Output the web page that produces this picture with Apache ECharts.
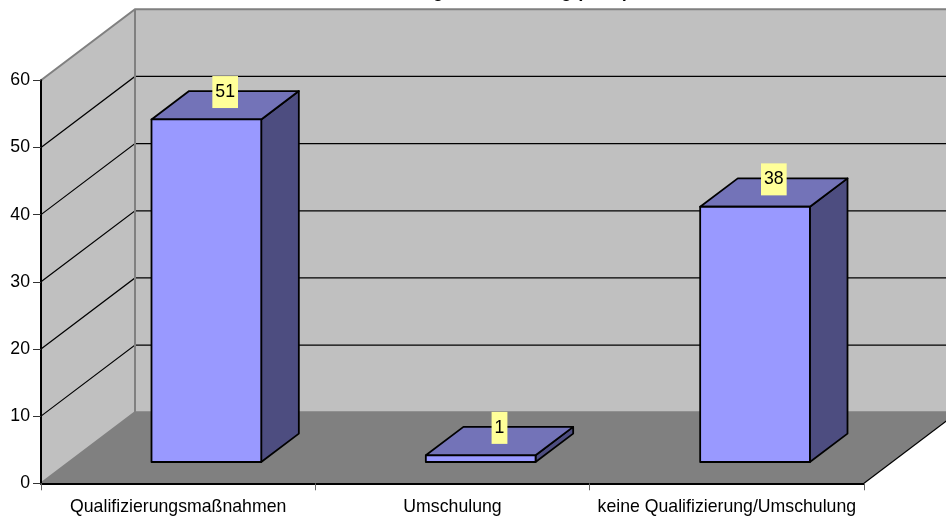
<!DOCTYPE html>
<html>
<head>
<meta charset="utf-8">
<style>html,body{margin:0;padding:0;background:#fff;overflow:hidden}#c{width:946px;height:518px}</style>
<script src="https://cdn.jsdelivr.net/npm/echarts@6/dist/echarts.min.js"></script>
</head>
<body>
<div id="c"></div>
<script>
const categories = ['Qualifizierungsmaßnahmen', 'Umschulung', 'keine Qualifizierung/Umschulung'];
const values = [51, 1, 38];
const yTicks = [0, 10, 20, 30, 40, 50, 60];
const titleText = 'Weiterbildung & Umschulung (n=90)';

const FONT = '"Liberation Sans", Arial, sans-serif';
const DX = 94, DY = 71;            // depth of the 3D box
const FRONT_GAP = 0.3, BAR_DEPTH = 0.4; // share of the depth
const BAR_W = 0.4;                 // share of a category

const chart = echarts.init(document.getElementById('c'), null, {renderer: 'canvas'});

function poly(points, fill, stroke, lineWidth) {
  return {type: 'polygon', shape: {points}, style: {fill, stroke: stroke || null, lineWidth: lineWidth || 0, lineJoin: 'round'}};
}
function line(points, stroke, lineWidth) {
  return {type: 'polyline', shape: {points}, style: {fill: null, stroke, lineWidth}};
}

function renderWalls(params, api) {
  const cs = params.coordSys;
  const xL = cs.x, xR = cs.x + cs.width;
  const y0 = api.coord([0, yTicks[0]])[1];
  const yT = api.coord([0, yTicks[yTicks.length - 1]])[1];
  const els = [];
  // back wall, side wall, floor
  els.push(poly([[xL + DX, yT - DY], [xR + DX, yT - DY], [xR + DX, y0 - DY], [xL + DX, y0 - DY]], '#c0c0c0'));
  els.push(poly([[xL, yT], [xL + DX, yT - DY], [xL + DX, y0 - DY], [xL, y0]], '#c0c0c0'));
  els.push(poly([[xL, y0], [xL + DX, y0 - DY], [xR + DX, y0 - DY], [xR, y0]], '#808080'));
  // grid lines
  yTicks.slice(1, -1).forEach(v => {
    const y = api.coord([0, v])[1];
    els.push(line([[xL, y], [xL + DX, y - DY], [xR + DX, y - DY]], '#000', 1.2));
  });
  // outline
  els.push(line([[xL, yT], [xL + DX, yT - DY], [xR + DX, yT - DY]], '#808080', 2));
  els.push(line([[xL + DX, yT - DY], [xL + DX, y0 - DY]], '#808080', 2));
  els.push(line([[xL, y0], [xL + DX, y0 - DY], [xR + DX, y0 - DY]], '#808080', 2));
  els.push(line([[xR, y0], [xR + DX, y0 - DY]], '#000', 1.2));
  return {type: 'group', children: els};
}

function renderBar(params, api) {
  const idx = api.value(0), val = api.value(1);
  const top = api.coord([idx, val]), base = api.coord([idx, 0]);
  const w = api.size([1, 0])[0] * BAR_W;
  const ox = DX * FRONT_GAP, oy = DY * FRONT_GAP;
  const dx = DX * BAR_DEPTH, dy = DY * BAR_DEPTH;
  const l = top[0] - w / 2 + ox, r = l + w;
  const t = top[1] - oy, b = base[1] - oy;
  const S = '#000', LW = 1.8;
  return {type: 'group', children: [
    poly([[r, t], [r + dx, t - dy], [r + dx, b - dy], [r, b]], '#4d4d80', S, LW),
    poly([[l, t], [l + dx, t - dy], [r + dx, t - dy], [r, t]], '#7373b8', S, LW),
    poly([[l, t], [r, t], [r, b], [l, b]], '#9999ff', S, LW),
    {type: 'text', z2: 10, style: {
      text: String(val), x: (l + r + dx) / 2, y: t - dy + 1,
      align: 'center', verticalAlign: 'middle',
      fill: '#000', fontFamily: FONT, fontSize: 17.7, lineHeight: 20,
      backgroundColor: '#ffff99', padding: [6, 3, 6, 3]
    }}
  ]};
}

chart.setOption({
  animation: false,
  backgroundColor: '#fff',
  title: {
    text: titleText, left: 327, top: -17, padding: 0,
    textStyle: {fontFamily: FONT, fontSize: 17.5, fontWeight: 'bold', color: '#000'}
  },
  grid: {left: 41, top: 80.3, width: 823, height: 403, containLabel: false},
  xAxis: {
    type: 'category', data: categories, z: 10,
    axisLine: {lineStyle: {color: '#000', width: 2}},
    axisTick: {show: true, alignWithLabel: false, length: 7, lineStyle: {color: '#666', width: 1}},
    axisLabel: {interval: 0, margin: 15, color: '#000', fontFamily: FONT, fontSize: 17.7}
  },
  yAxis: {
    type: 'value', min: 0, max: 60, interval: 10, z: 10,
    axisLine: {show: true, lineStyle: {color: '#000', width: 2}},
    axisTick: {show: true, length: 8, lineStyle: {color: '#333', width: 1}},
    splitLine: {show: false},
    axisLabel: {margin: 11, color: '#000', fontFamily: FONT, fontSize: 17.7,
      formatter: v => yTicks.includes(v) ? String(v) : ''}
  },
  series: [
    {type: 'custom', z: 1, silent: true, clip: false, renderItem: renderWalls, data: [[0, 0]], encode: {x: 0, y: 1}},
    {type: 'custom', z: 2, silent: true, clip: false, renderItem: renderBar,
      data: values.map((v, i) => [i, v]), encode: {x: 0, y: 1}}
  ]
});
</script>
</body>
</html>
